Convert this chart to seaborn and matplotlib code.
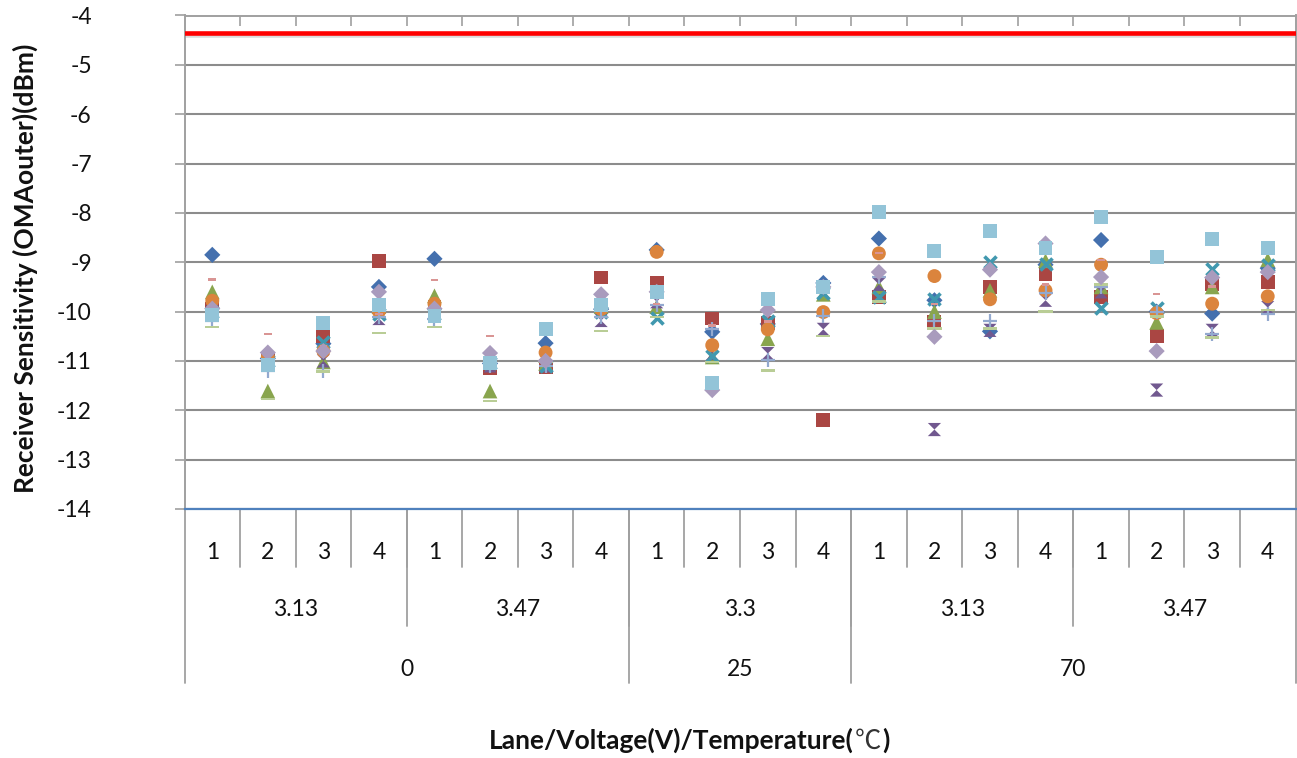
import numpy as np
import pandas as pd
import matplotlib
matplotlib.use("Agg")
import matplotlib.pyplot as plt
import matplotlib.patheffects as pe
import seaborn as sns

# ---- category levels -------------------------------------------------------
lanes = ["1", "2", "3", "4"] * 5
voltage_labels = ["3.13", "3.47", "3.3", "3.13", "3.47"]
temperature_labels = ["0", "25", "70"]
voltages_per_temperature = [2, 1, 2]
lanes_per_voltage = 4

spec_limit = -4.36

# ---- measured receiver sensitivity per unit (dBm), one value per lane ------
unit_01 = [-8.85, -10.95, -10.65, -9.50, -8.93, -11.05, -10.64, -9.95, -8.75, -10.41,
           -10.25, -9.42, -8.52, -9.77, -10.40, -9.05, -8.55, -10.00, -10.04, -9.12]
unit_02 = [-9.95, -10.95, -10.49, -8.97, -9.90, -11.15, -11.12, -9.31, -9.42, -10.14,
           -10.24, -12.20, -9.70, -10.20, -9.51, -9.23, -9.70, -10.49, -9.45, -9.40]
unit_03 = [-9.60, -11.61, -11.02, -9.90, -9.68, -11.61, -11.05, -9.90, -9.90, -10.92,
           -10.55, -9.65, -9.50, -10.00, -9.57, -8.97, -9.50, -10.22, -9.50, -8.95]
unit_04 = [-10.00, -11.00, -11.00, -10.14, -10.00, -11.10, -11.10, -10.18, -9.80, -10.85,
           -10.85, -10.36, -9.45, -12.39, -10.38, -9.77, -9.60, -11.59, -10.38, -9.92]
unit_05 = [-10.00, -11.00, -10.62, -10.05, -10.05, -11.05, -11.10, -10.00, -10.12, -10.90,
           -10.20, -9.62, -9.70, -9.75, -8.99, -9.03, -9.92, -9.93, -9.13, -9.05]
unit_06 = [-9.78, -10.92, -10.80, -10.00, -9.84, -11.00, -10.83, -9.95, -8.79, -10.68,
           -10.36, -10.01, -8.82, -9.28, -9.75, -9.57, -9.05, -10.03, -9.84, -9.69]
unit_07 = [-10.20, -11.20, -11.20, -10.10, -10.15, -11.10, -11.10, -10.10, -9.87, -10.35,
           -10.99, -10.08, -9.30, -10.20, -10.20, -9.63, -9.50, -10.00, -10.45, -10.04]
unit_08 = [-9.35, -10.46, -10.70, -10.05, -9.36, -10.50, -11.00, -9.90, -9.85, -10.28,
           -10.20, -9.50, -8.81, -9.84, -9.20, -9.45, -8.95, -9.64, -9.49, -9.13]
unit_09 = [-10.31, -11.77, -11.21, -10.43, -10.31, -11.81, -11.02, -10.39, -10.11, -11.02,
           -11.19, -10.49, -9.80, -10.34, -10.34, -10.00, -9.45, -10.10, -10.53, -9.97]
unit_10 = [-9.94, -10.83, -10.80, -9.60, -9.94, -10.84, -11.00, -9.65, -9.60, -11.59,
           -9.97, -9.50, -9.20, -10.51, -9.15, -8.62, -9.30, -10.80, -9.31, -9.20]
unit_11 = [-10.07, -11.09, -10.23, -9.87, -10.09, -11.05, -10.36, -9.87, -9.60, -11.44,
           -9.74, -9.50, -7.99, -8.77, -8.36, -8.72, -8.08, -8.89, -8.52, -8.72]

units = [unit_01, unit_02, unit_03, unit_04, unit_05, unit_06,
         unit_07, unit_08, unit_09, unit_10, unit_11]

# ---- marker styles (office-like palette) ------------------------------------
hourglass = [(-1, 1), (1, 1), (0, 0), (1, -1), (-1, -1), (0, 0)]
short_dash = [(-1, -0.29), (1, -0.29), (1, 0.29), (-1, 0.29)]
long_dash = [(-1, -0.18), (1, -0.18), (1, 0.18), (-1, 0.18)]

styles = [
    dict(marker="D", color="#4470AE", s=68, lw=0),
    dict(marker="s", color="#AA4643", s=100, lw=0),
    dict(marker="^", color="#89A54E", s=112, lw=0),
    dict(marker=hourglass, color="#71588F", s=90, lw=0),
    dict(marker="x", color="#4198AF", s=75, lw=2.6),
    dict(marker="o", color="#DB843D", s=100, lw=0),
    dict(marker="+", color="#93A9CF", s=100, lw=1.6),
    dict(marker=short_dash, color="#D99594", s=30, lw=0),
    dict(marker=long_dash, color="#B9CD96", s=104, lw=0),
    dict(marker="D", color="#A99BBD", s=68, lw=0),
    dict(marker="s", color="#93C4D8", s=100, lw=0),
]

positions = np.arange(len(lanes))
frames = []
for i, vals in enumerate(units):
    frames.append(pd.DataFrame({"pos": positions, "value": vals, "unit": i}))
data = pd.concat(frames, ignore_index=True)

# ---- figure ------------------------------------------------------------------
sns.set_style("white")
plt.rcParams["font.family"] = ["Lato", "Noto Sans CJK SC", "DejaVu Sans"]

W, H = 1297, 758
fig = plt.figure(figsize=(W / 100, H / 100), dpi=100)
ax_left, ax_right, ax_top, ax_bottom = 184.5, 1295.5, 15.5, 509.0
ax = fig.add_axes([ax_left / W, 1 - ax_bottom / H,
                   (ax_right - ax_left) / W, (ax_bottom - ax_top) / H])
ax_h_px = ax_bottom - ax_top

for i, st in enumerate(styles):
    sub = data[data["unit"] == i]
    kw = dict(edgecolor="none") if st["lw"] == 0 else {}
    sns.scatterplot(data=sub, x="pos", y="value", ax=ax, marker=st["marker"],
                    color=st["color"], s=st["s"], linewidth=st["lw"],
                    zorder=3 + i, legend=False, **kw)

# specification limit
ax.axhline(spec_limit, color="#FF0000", lw=3.3, zorder=20,
           path_effects=[pe.SimpleLineShadow(offset=(0, -1.5), shadow_color="#999999", alpha=0.35),
                         pe.Normal()])

ax.set_xlim(-0.5, len(lanes) - 0.5)
ax.set_ylim(-14, -4)
ax.set_yticks(np.arange(-14, -3, 1))
ax.set_yticklabels([f"{v:d}" for v in range(-14, -3)])
ax.yaxis.grid(True, color="#8C8C8C", lw=1.5)
ax.xaxis.grid(False)
ax.set_axisbelow(True)
ax.set_xlabel("")
ax.set_ylabel("")

grey = "#A0A0A0"
for side in ["left", "top", "right"]:
    ax.spines[side].set_visible(True)
    ax.spines[side].set_color(grey)
    ax.spines[side].set_linewidth(1.4)
ax.spines["bottom"].set_color("#4F81BD")
ax.spines["bottom"].set_linewidth(1.6)

ax.tick_params(axis="y", left=True, length=7.2, width=1.2, color=grey,
               pad=59.5, labelsize=16.5, labelcolor="#111111")

# lane labels on the first row
ax.set_xticks(positions)
ax.set_xticklabels(lanes)
ax.tick_params(axis="x", which="major", length=0, pad=24, labelsize=16.5,
               labelcolor="#111111")
# short boundary ticks along the top edge
ax.set_xticks(np.arange(-0.5, len(lanes), 1)[1:-1], minor=True)
ax.tick_params(axis="x", which="minor", bottom=False, top=True, direction="in",
               length=7.2, width=1.2, color=grey)

xt = ax.get_xaxis_transform()
def frac(px):
    return -px / ax_h_px

line_kw = dict(transform=xt, clip_on=False, color=grey, lw=1.3)

# lane separators
for b in np.arange(0.5, len(lanes) - 1, 1):
    ax.plot([b, b], [0, frac(58)], **line_kw)

# voltage level
v_edges = np.cumsum([0] + [lanes_per_voltage] * len(voltage_labels)) - 0.5
for j, lab in enumerate(voltage_labels):
    c = (v_edges[j] + v_edges[j + 1]) / 2
    ax.text(c, frac(100), lab, transform=xt, ha="center", va="center",
            fontsize=16.5, color="#111111")
for b in v_edges[1:-1]:
    ax.plot([b, b], [0, frac(117)], **line_kw)

# temperature level
t_edges = v_edges[np.cumsum([0] + voltages_per_temperature)]
for j, lab in enumerate(temperature_labels):
    c = (t_edges[j] + t_edges[j + 1]) / 2
    ax.text(c, frac(160), lab, transform=xt, ha="center", va="center",
            fontsize=16.5, color="#111111")
for b in t_edges:
    ax.plot([b, b], [0, frac(174)], **line_kw)

# axis titles; the degree sign comes from the CJK face, the rest in bold
title_kw = dict(fontsize=19, fontweight="bold", color="#111111", va="baseline")
base_y = 1 - 749 / H
t1 = fig.text(489 / W, base_y, "Lane/Voltage(V)/Temperature(", ha="left", **title_kw)
fig.canvas.draw()
x1 = t1.get_window_extent().x1 / W
t2 = fig.text(x1 + 1 / W, base_y, "℃", ha="left", va="baseline", fontsize=19,
              color="#333333", family=["Noto Sans CJK SC"], fontweight="light")
fig.canvas.draw()
x2 = t2.get_window_extent().x1 / W
fig.text(x2 + 1 / W, base_y, ")", ha="left", **title_kw)

fig.text(25 / W, 1 - 268 / H, "Receiver Sensitivity (OMAouter)(dBm)",
         ha="center", va="center", rotation=90, fontsize=19, fontweight="bold",
         color="#111111")

fig.savefig("out.png", dpi=100, facecolor="white")
